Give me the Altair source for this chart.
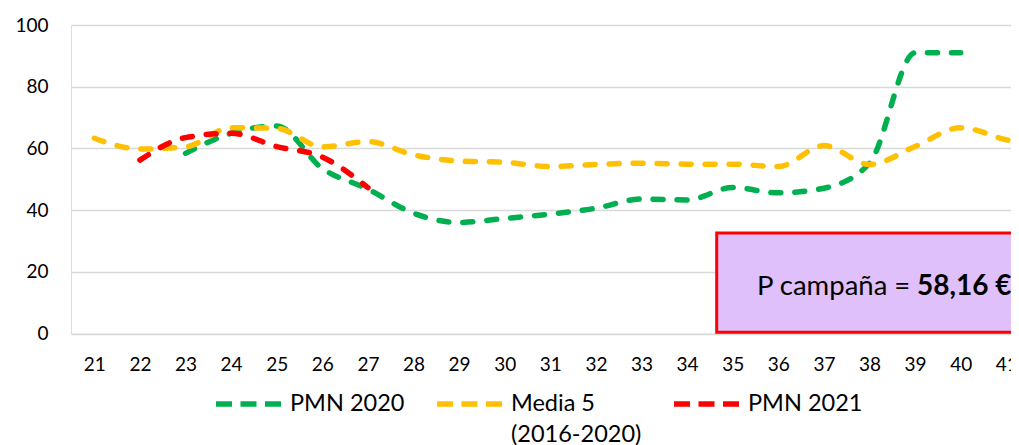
import altair as alt
import pandas as pd

weeks = list(range(21, 43))
pmn2020 = [None, None, 58.4, 64.9, 67.3, 53.5, 46.8, 39.0, 36.0, 37.3, 38.7, 40.6,
           43.6, 43.3, 47.3, 45.6, 47.1, 55.2, 91.0, 91.0, None, None]
media5 = [63.3, 59.8, 60.5, 66.7, 66.5, 60.5, 62.2, 57.9, 55.9, 55.5, 54.1, 54.8,
          55.2, 54.9, 54.9, 54.1, 60.9, 54.8, 60.6, 66.7, 62.8, 60.0]
pmn2021 = [None, 56.2, 63.5, 64.9, 60.6, 57.2, 47.3, None, None, None, None, None,
           None, None, None, None, None, None, None, None, None, None]
series_names = ["PMN 2020", "Media 5 (2016-2020)", "PMN 2021"]
series_colors = ["#00B050", "#FFC000", "#FF0000"]
x_ticks = list(range(21, 42))
y_ticks = [0, 20, 40, 60, 80, 100]
box_label = "P campaña ="
box_value = "58,16 €/100 kg"

rows = []
for name, vals in zip(series_names, [pmn2020, media5, pmn2021]):
    for w, v in zip(weeks, vals):
        if v is not None:
            rows.append({"semana": w, "valor": v, "serie": name})
df = pd.DataFrame(rows)

FONT = "Lato"

lines = alt.Chart(df).mark_line(
    strokeWidth=5.5, strokeDash=[10, 14], strokeCap="round",
    interpolate="monotone", clip=True
).encode(
    x=alt.X("semana:Q",
            scale=alt.Scale(domain=[20.489, 41.103], nice=False, zero=False),
            axis=alt.Axis(values=x_ticks, title=None, grid=False, domain=False,
                          ticks=False, tickSize=0, labelPadding=22, labelFontSize=19,
                          labelFont=FONT, labelColor="#000000", format="d",
                          labelOverlap=False)),
    y=alt.Y("valor:Q", scale=alt.Scale(domain=[0, 100], nice=False),
            axis=alt.Axis(values=y_ticks, title=None, grid=True, gridColor="#D9D9D9",
                          gridWidth=1.5, domain=False, ticks=False, tickSize=0,
                          labelPadding=23, labelFontSize=19, labelFont=FONT,
                          labelColor="#000000")),
    color=alt.Color("serie:N",
                    scale=alt.Scale(domain=series_names, range=series_colors),
                    legend=alt.Legend(
                        orient="none", legendX=142, legendY=343.5, direction="horizontal",
                        columns=3, title=None, symbolType="stroke", symbolSize=4225,
                        symbolStrokeWidth=5.5, symbolDash=[16, 8.5],
                        labelFontSize=23.5, labelFont=FONT, labelColor="#000000",
                        labelOffset=6, columnPadding=21, labelLimit=400, padding=0,
                        labelExpr="datum.label == 'Media 5 (2016-2020)' ? ['Media 5', '(2016-2020)'] : [datum.label, ' ']")),
    order=alt.Order("serie:N"),
)

box = alt.Chart(pd.DataFrame({"t": [box_label]})).mark_rect(
    fill="#E0C0FA", stroke="#FF0000", strokeWidth=3
).encode(
    x=alt.value(645.7), x2=alt.value(1000), y=alt.value(208), y2=alt.value(307.3)
)

txt1 = alt.Chart(pd.DataFrame({"t": [box_label]})).mark_text(
    align="left", baseline="alphabetic", font=FONT, fontSize=27.5, color="#000000"
).encode(text="t:N", x=alt.value(686), y=alt.value(270))

txt2 = alt.Chart(pd.DataFrame({"t": [box_value]})).mark_text(
    align="left", baseline="alphabetic", font=FONT, fontSize=28, fontWeight="bold",
    color="#000000"
).encode(text="t:N", x=alt.value(846), y=alt.value(270))

chart = alt.layer(lines, box, txt1, txt2).properties(
    width=940, height=308.5,
    padding={"left": 63, "top": 17, "right": 0, "bottom": 111.5},
    autosize=alt.AutoSizeParams(type="none"),
).configure_view(stroke=None).configure(
    style={"guide-label": {"lineHeight": 31}}
)

chart.save("out.html", embed_options={"renderer": "svg", "actions": False})
